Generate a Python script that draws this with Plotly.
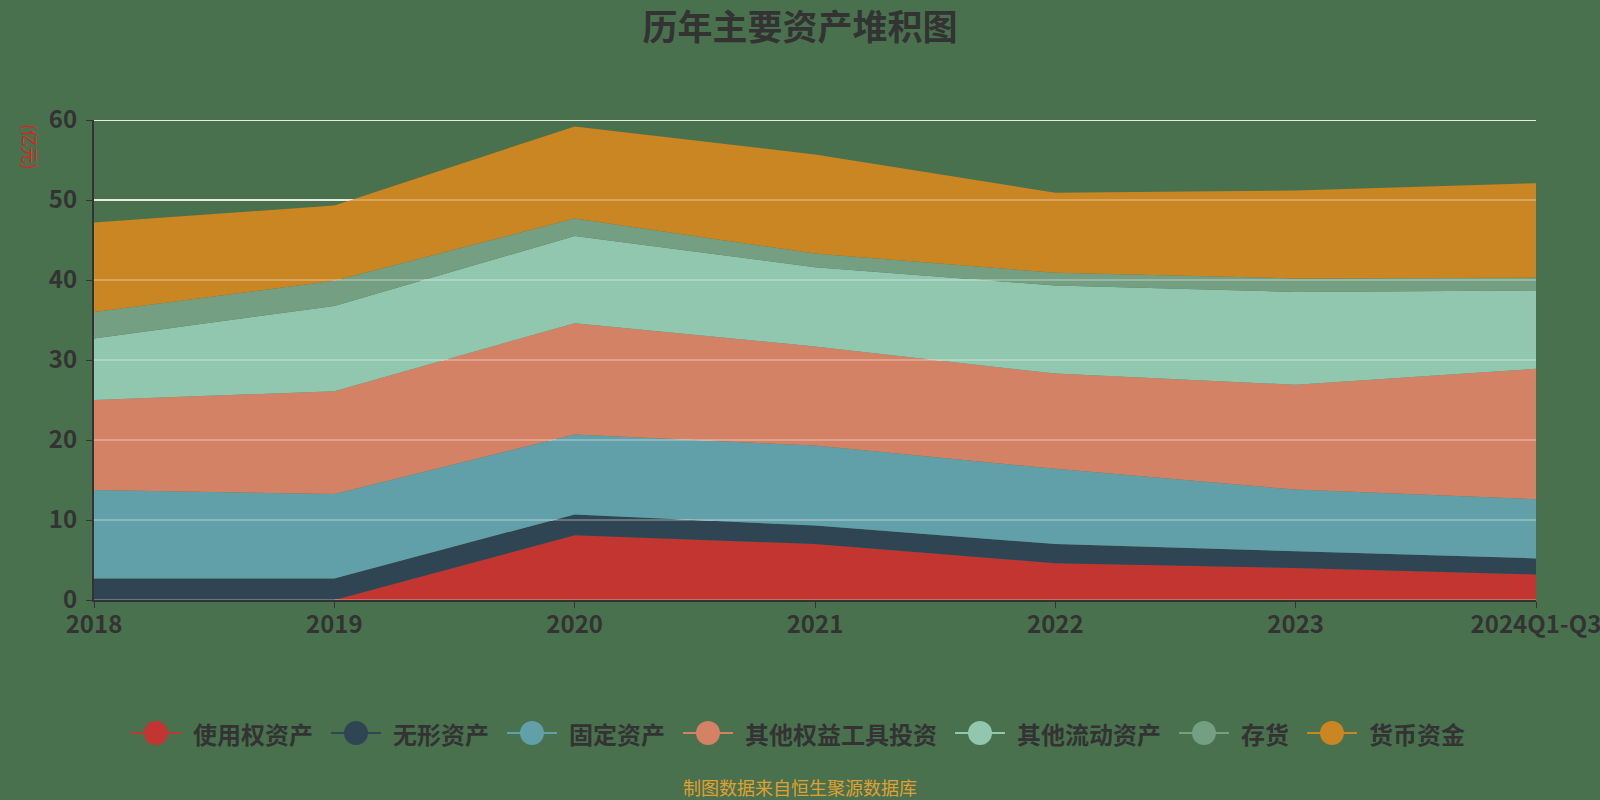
import plotly.graph_objects as go

years = ["2018", "2019", "2020", "2021", "2022", "2023", "2024Q1-Q3"]
series_names = ["使用权资产", "无形资产", "固定资产", "其他权益工具投资", "其他流动资产", "存货", "货币资金"]
use_right = [0.0, 0.0, 8.1, 7.0, 4.6, 4.0, 3.2]
intangible = [2.7, 2.7, 2.6, 2.3, 2.4, 2.1, 2.0]
fixed_assets = [11.05, 10.55, 10.0, 10.0, 9.4, 7.7, 7.4]
other_equity = [11.25, 12.85, 13.9, 12.4, 11.9, 13.1, 16.3]
other_current = [7.7, 10.65, 10.9, 9.9, 11.0, 11.6, 9.8]
inventory = [3.3, 3.15, 2.2, 1.7, 1.6, 1.7, 1.6]
cash = [11.2, 9.4, 11.5, 12.4, 10.0, 11.0, 11.8]
colors = ["#c23531", "#2f4554", "#61a0a8", "#d48265", "#91c7ae", "#749f83", "#ca8622"]
yticks = [0, 10, 20, 30, 40, 50, 60]

values = [use_right, intangible, fixed_assets, other_equity, other_current, inventory, cash]
font_family = "Noto Sans CJK SC, Noto Sans, sans-serif"

W, H = 1600, 800
L, R, T, B = 94, 64, 120, 200
PW, PH = W - L - R, H - T - B

def px_to_paper_x(px):
    return (px - L) / PW

def px_to_paper_y(py):
    return (H - B - py) / PH

fig = go.Figure()
for name, vals, col in zip(series_names, values, colors):
    fig.add_trace(go.Scatter(
        x=years, y=vals, name=name, mode="lines", stackgroup="one",
        line=dict(width=0, color=col), fillcolor=col, showlegend=False,
        hoverinfo="skip"))

for t in yticks:
    fig.add_shape(type="line", xref="paper", yref="y", x0=0, x1=1, y0=t, y1=t,
                  line=dict(color="#dfe6d8", width=2), layer="below")
    fig.add_shape(type="line", xref="paper", yref="y", x0=0, x1=1, y0=t, y1=t,
                  line=dict(color="rgba(255,255,255,0.26)", width=2), layer="above")

# Custom legend (echarts-style: line with a circle, then label)
LEG_FONT = 24
ICON_W, ICON_GAP, ITEM_GAP, LEG_Y = 50, 10, 20, 733
text_widths = [len(n) * LEG_FONT for n in series_names]
total_w = sum(text_widths) + len(series_names) * (ICON_W + ICON_GAP) + (len(series_names) - 1) * ITEM_GAP
cur = W / 2 - total_w / 2 - 3
annotations = []
ly = px_to_paper_y(LEG_Y)
for name, col, tw in zip(series_names, colors, text_widths):
    fig.add_shape(type="line", xref="paper", yref="paper",
                  x0=px_to_paper_x(cur), x1=px_to_paper_x(cur + ICON_W), y0=ly, y1=ly,
                  line=dict(color=col, width=2), layer="above")
    fig.add_shape(type="circle", xref="paper", yref="paper",
                  xsizemode="pixel", ysizemode="pixel",
                  xanchor=px_to_paper_x(cur + ICON_W / 2), yanchor=ly,
                  x0=-12, x1=12, y0=-12, y1=12,
                  fillcolor=col, line=dict(color=col, width=0), layer="above")
    annotations.append(dict(text=name, xref="paper", yref="paper",
                            x=px_to_paper_x(cur + ICON_W + ICON_GAP), y=ly,
                            xanchor="left", yanchor="middle", showarrow=False,
                            font=dict(size=LEG_FONT, color="#333333", weight="bold")))
    cur += ICON_W + ICON_GAP + tw + ITEM_GAP

annotations += [
    dict(text="(亿元)", xref="paper", yref="paper", x=px_to_paper_x(31), y=px_to_paper_y(147),
         showarrow=False, textangle=90, font=dict(size=17, color="#e02020"),
         xanchor="center", yanchor="middle"),
    dict(text="制图数据来自恒生聚源数据库", xref="paper", yref="paper",
         x=px_to_paper_x(800), y=px_to_paper_y(787), showarrow=False,
         xanchor="center", yanchor="middle",
         font=dict(size=18, color="#e0a030")),
]

fig.update_layout(
    width=W, height=H,
    paper_bgcolor="#4a714e", plot_bgcolor="#4a714e",
    margin=dict(l=L, r=R, t=T, b=B, autoexpand=False),
    font=dict(family=font_family, color="#333333"),
    title=dict(text="<b>历年主要资产堆积图</b>", x=0.5, xref="container", xanchor="center",
               y=1 - 28 / 800, yref="container", yanchor="middle",
               font=dict(size=35, color="#333333", family=font_family)),
    showlegend=False,
    xaxis=dict(type="category", range=[0, 6], showgrid=False, automargin=False,
               showline=True, linecolor="#333333", linewidth=2,
               ticks="outside", ticklen=6, tickcolor="#333333", ticklabelstandoff=-4,
               tickfont=dict(size=24, color="#333333", weight="bold"), fixedrange=True),
    yaxis=dict(range=[0, 60], tickvals=yticks, showgrid=False, automargin=False,
               showline=True, linecolor="#333333", linewidth=2,
               ticks="outside", ticklen=6, tickcolor="#333333", ticklabelstandoff=4,
               tickfont=dict(size=24, color="#333333", weight="bold"), zeroline=False),
    annotations=annotations,
)

fig.write_html("out.html")
